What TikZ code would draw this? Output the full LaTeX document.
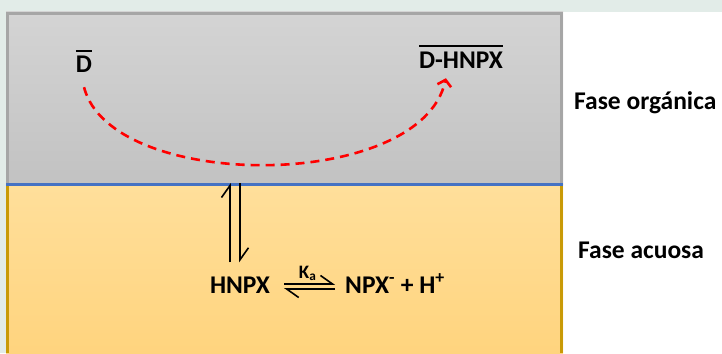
\documentclass[tikz,border=0pt]{standalone}
\usepackage{fontspec}
\setmainfont{Carlito}
\usetikzlibrary{arrows.meta,calc}
\definecolor{phaseTint}{RGB}{226,236,232}
\definecolor{orgTop}{RGB}{212,212,212}
\definecolor{orgBottom}{RGB}{194,194,194}
\definecolor{orgEdge}{RGB}{166,166,166}
\definecolor{aqTop}{RGB}{255,223,155}
\definecolor{aqBottom}{RGB}{255,212,126}
\definecolor{aqEdge}{RGB}{201,154,6}
\definecolor{ifaceBlue}{RGB}{68,114,196}
\newcommand{\barred}[1]{\leavevmode\vbox{\hrule height 2.8pt\kern 4pt\hbox{#1}}}

\begin{document}
\begin{tikzpicture}[x=1pt, y=-1pt,
    species/.style={font=\fontsize{25.5}{30}\selectfont\bfseries, inner sep=0pt},
    konst/.style={font=\fontsize{19}{22}\selectfont\bfseries, inner sep=0pt},
    harp/.style={-{Straight Barb[harpoon, length=12pt, width=17pt]}, line width=1.6pt},
    flux/.style={-{Straight Barb[length=6pt, width=14pt]}, red, line width=2.6pt,
                 dash pattern=on 9pt off 6pt}
  ]
  \useasboundingbox (0,0) rectangle (722,353);
  \fill[phaseTint] (0,0) rectangle (722,12);
  \fill[phaseTint] (0,0) rectangle (6,353);

  % the two phases
  \shade[top color=orgTop, bottom color=orgBottom] (6,12) rectangle (563,184);
  \shade[top color=aqTop, bottom color=aqBottom] (6,184) rectangle (563,353);
  \draw[orgEdge, line width=3pt] (7.5,184) -- (7.5,13.5) -- (561.5,13.5) -- (561.5,184);
  \draw[aqEdge, line width=3pt] (7.5,184) -- (7.5,353);
  \draw[aqEdge, line width=3pt] (561.5,184) -- (561.5,353);
  \draw[ifaceBlue, line width=3pt] (6,184) -- (563,184);
  \coordinate (iface) at (235,183);

  \node[species, anchor=base] (dfree) at (84,73) {\barred{D}};
  \node[species, anchor=base] (dcplx) at (461,68) {\barred{D-HNPX}};
  \node[species, anchor=base] (hnpx)  at (240,293) {HNPX};
  \node[species, anchor=base west] (npx) at (345,293) {NPX\textsuperscript{-} + H\textsuperscript{+}};
  \node[konst, anchor=base] (ka) at ($(hnpx.base east)!.5!(npx.base west)+(0,-15)$) {K\textsubscript{a}};

  \node[species, anchor=base west] (forg) at (574,109) {Fase orgánica};
  \node[species, anchor=base west] (facu) at (578,258) {Fase acuosa};

  \draw[flux] ([yshift=-14pt]dfree.south) .. controls +(27,105) and +(-25,114)
    .. ([xshift=27pt, yshift=-10pt]dcplx.south west);

  \draw[harp] ([xshift=-10pt, yshift=14pt]hnpx.north) -- ([xshift=-5pt]iface);
  \draw[harp] ([xshift=5pt]iface) -- ([yshift=14pt]hnpx.north);

  \draw[harp] ([xshift=14pt, yshift=9pt]hnpx.base east) -- ([xshift=-10pt, yshift=9pt]npx.base west);
  \draw[harp] ([xshift=-10pt, yshift=4pt]npx.base west) -- ([xshift=14pt, yshift=4pt]hnpx.base east);
\end{tikzpicture}
\end{document}
